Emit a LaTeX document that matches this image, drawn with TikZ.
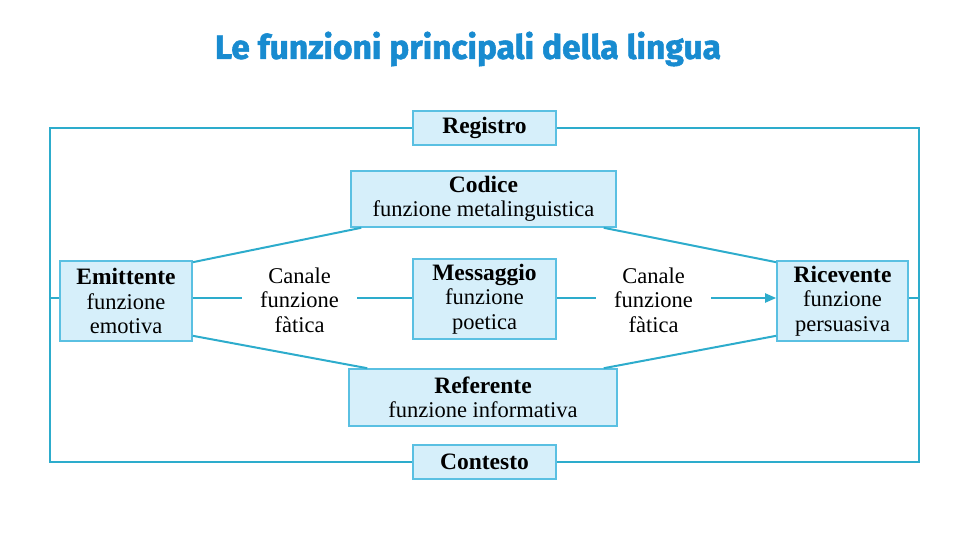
\documentclass[tikz,border=0pt]{standalone}
\usepackage{fontspec}
\setmainfont{Liberation Serif}
\newfontfamily\titlefont[BoldFeatures={FakeBold=1.6}]{Fira Sans}
\usetikzlibrary{arrows.meta,calc}
\definecolor{linec}{RGB}{45,172,204}
\definecolor{boxfill}{RGB}{214,239,250}
\definecolor{boxdraw}{RGB}{90,192,226}
\definecolor{titlec}{RGB}{24,139,208}
\newcommand{\hd}[1]{{\fontsize{23.5}{24.5}\selectfont\textbf{#1}}}
\begin{document}
\begin{tikzpicture}[x=1pt,y=-1pt,
  box/.style={draw=boxdraw,fill=boxfill,line width=1.6pt,inner sep=0pt,align=center,
    font=\fontsize{22.5}{24.5}\selectfont},
  canale/.style={inner sep=0pt,align=center,minimum width=115pt,
    font=\fontsize{22.5}{24.5}\selectfont},
  conn/.style={draw=linec,line width=2pt}]
\useasboundingbox (0,0) rectangle (960,540);
\node[font=\titlefont\bfseries\fontsize{33.5}{36}\selectfont,text=titlec] (title) at (468,49) {Le funzioni principali della lingua};
% frame corners
\coordinate (TL) at (50,128);
\coordinate (TR) at (919,128);
\coordinate (BL) at (50,462);
\coordinate (BR) at (919,462);
\draw[conn] (484.5,128) -- (TL) -- (BL) -- (484.5,462);
\draw[conn] (484.5,128) -- (TR) -- (BR) -- (484.5,462);
% nodes
\node[box,minimum width=143pt,minimum height=34pt] (reg) at (484.5,128) {\hd{Registro}};
\node[box,minimum width=143pt,minimum height=34pt] (con) at (484.5,462) {\hd{Contesto}};
\node[box,minimum width=265pt,minimum height=56pt] (cod) at (483.5,199) {\hd{Codice}\\funzione metalinguistica};
\node[box,minimum width=268pt,minimum height=57pt] (ref) at (483,397.5) {\hd{Referente}\\funzione informativa};
\node[box,minimum width=132pt,minimum height=80pt] (emi) at (126,301) {\hd{Emittente}\\funzione\\emotiva};
\node[box,minimum width=143pt,minimum height=80pt] (mes) at (484.5,299) {\hd{Messaggio}\\funzione\\poetica};
\node[box,minimum width=131pt,minimum height=80pt] (ric) at (842.5,301) {\hd{Ricevente}\\funzione\\persuasiva};
\node[canale] (canL) at (299.5,300) {Canale\\funzione\\fàtica};
\node[canale] (canR) at (653.5,300) {Canale\\funzione\\fàtica};
% side links to frame
\draw[conn] (emi.west |- 0,298) -- (TL |- 0,298);
\draw[conn] (ric.east |- 0,298) -- (TR |- 0,298);
% channel line
\draw[conn] (emi.east |- 0,298) -- (canL.west |- 0,298);
\draw[conn] (canL.east |- 0,298) -- (mes.west |- 0,298);
\draw[conn] (mes.east |- 0,298) -- (canR.west |- 0,298);
\draw[conn,-{Triangle[length=11pt,width=9pt]}] (canR.east |- 0,298) -- (ric.west |- 0,298);
% diagonals
\draw[conn] ($(emi.north east)+(0,2)$) -- ($(cod.south west)+(11,0)$);
\draw[conn] ($(cod.south east)+(-13,0)$) -- ($(ric.north west)+(0,2)$);
\draw[conn] ($(emi.south east)+(0,-6)$) -- ($(ref.north west)+(19,0)$);
\draw[conn] ($(ref.north east)+(-14,0)$) -- ($(ric.south west)+(0,-6)$);
\end{tikzpicture}
\end{document}
